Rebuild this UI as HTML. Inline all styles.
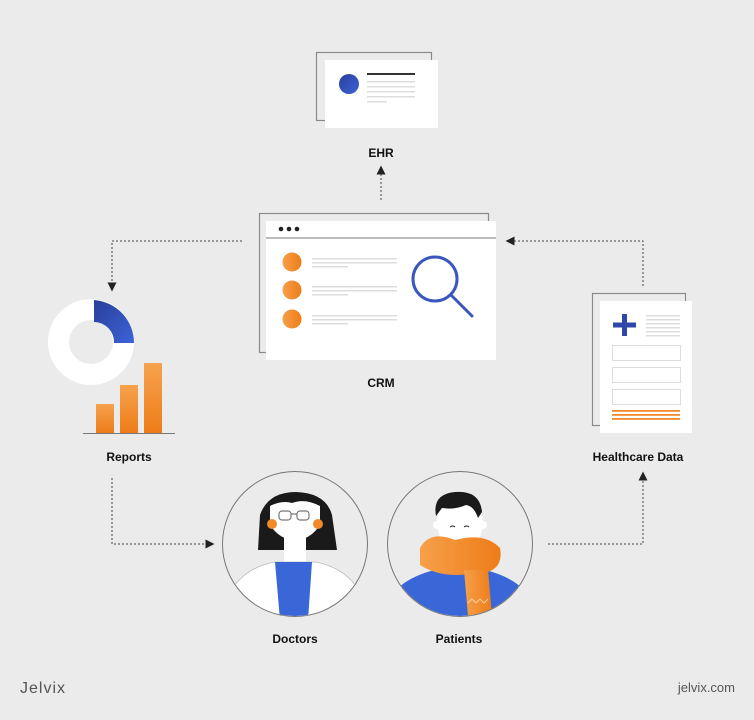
<!DOCTYPE html>
<html><head><meta charset="utf-8"><style>
html,body{margin:0;padding:0;background:#ebebeb;}
svg{display:block}
text{font-family:"Liberation Sans",sans-serif;}
</style></head><body>
<svg width="754" height="720" viewBox="0 0 754 720" xmlns="http://www.w3.org/2000/svg">
<defs>
<linearGradient id="og" x1="0" y1="0" x2="1" y2="0"><stop offset="0" stop-color="#f6a04a"/><stop offset="1" stop-color="#ee7c18"/></linearGradient>
<linearGradient id="ob" x1="0" y1="0" x2="0" y2="1"><stop offset="0" stop-color="#f6a24e"/><stop offset="1" stop-color="#ee7c18"/></linearGradient>
<linearGradient id="bg" x1="0" y1="0" x2="1" y2="1"><stop offset="0" stop-color="#2a3f9a"/><stop offset="1" stop-color="#3b63d8"/></linearGradient>
<clipPath id="cd"><circle cx="295" cy="544" r="72"/></clipPath>
<clipPath id="cp"><circle cx="460" cy="544" r="72"/></clipPath>
<marker id="ah" viewBox="0 0 10 10" refX="5" refY="5" markerWidth="9" markerHeight="9" orient="auto"><path d="M0,0 L10,5 L0,10z" fill="#222"/></marker>
</defs>
<rect width="754" height="720" fill="#ebebeb"/>

<!-- EHR -->
<rect x="316.5" y="52.5" width="115" height="68" fill="none" stroke="#8a8a8a" stroke-width="1.2"/>
<rect x="325" y="60" width="113" height="68" fill="#fff"/>
<circle cx="349" cy="84" r="10" fill="url(#bg)"/>
<rect x="367" y="73" width="48" height="2" fill="#333"/>
<g fill="#ddd"><rect x="367" y="81" width="48" height="1.5"/><rect x="367" y="86" width="48" height="1.5"/><rect x="367" y="91" width="48" height="1.5"/><rect x="367" y="96" width="48" height="1.5"/><rect x="367" y="101" width="20" height="1.5"/></g>
<text x="381" y="157" font-size="12" font-weight="bold" text-anchor="middle" fill="#111">EHR</text>
<line x1="381" y1="200" x2="381" y2="170" stroke="#444" stroke-dasharray="2,2" marker-end="url(#ah)"/>

<!-- CRM -->
<rect x="259.5" y="213.5" width="229" height="139" fill="none" stroke="#8a8a8a" stroke-width="1.2"/>
<rect x="266" y="221" width="230" height="139" fill="#fff"/>
<line x1="266" y1="238" x2="496" y2="238" stroke="#777"/>
<g fill="#222"><circle cx="281" cy="229" r="2.3"/><circle cx="289" cy="229" r="2.3"/><circle cx="297" cy="229" r="2.3"/></g>
<g fill="url(#og)"><circle cx="292" cy="262" r="9.5"/><circle cx="292" cy="290" r="9.5"/><circle cx="292" cy="319" r="9.5"/></g>
<g fill="#ddd">
<rect x="312" y="258" width="85" height="1.5"/><rect x="312" y="262" width="85" height="1.5"/><rect x="312" y="266" width="36" height="1.5"/>
<rect x="312" y="286" width="85" height="1.5"/><rect x="312" y="290" width="85" height="1.5"/><rect x="312" y="294" width="36" height="1.5"/>
<rect x="312" y="315" width="85" height="1.5"/><rect x="312" y="319" width="85" height="1.5"/><rect x="312" y="323" width="36" height="1.5"/></g>
<circle cx="435" cy="279" r="22" fill="none" stroke="#3a57c0" stroke-width="3"/>
<line x1="451" y1="295" x2="472" y2="316" stroke="#3a57c0" stroke-width="3" stroke-linecap="round"/>
<text x="381" y="387" font-size="12" font-weight="bold" text-anchor="middle" fill="#111">CRM</text>

<!-- connectors -->
<polyline points="242,241 112,241 112,287" fill="none" stroke="#444" stroke-dasharray="2,2" marker-end="url(#ah)"/>
<polyline points="643,286 643,241 510,241" fill="none" stroke="#444" stroke-dasharray="2,2" marker-end="url(#ah)"/>
<polyline points="112,478 112,544 210,544" fill="none" stroke="#444" stroke-dasharray="2,2" marker-end="url(#ah)"/>
<polyline points="548,544 643,544 643,476" fill="none" stroke="#444" stroke-dasharray="2,2" marker-end="url(#ah)"/>

<!-- Reports -->
<circle cx="91" cy="342" r="32.5" fill="none" stroke="#fff" stroke-width="21"/>
<path d="M94,300 A43,43 0 0 1 134,343 L114,343 A20,20 0 0 0 94,322 Z" fill="url(#bg)"/>
<rect x="96" y="404" width="18" height="29" fill="url(#ob)"/>
<rect x="120" y="385" width="18" height="48" fill="url(#ob)"/>
<rect x="144" y="363" width="18" height="70" fill="url(#ob)"/>
<line x1="83" y1="433.5" x2="175" y2="433.5" stroke="#777"/>
<text x="129" y="461" font-size="12" font-weight="bold" text-anchor="middle" fill="#111">Reports</text>

<!-- Healthcare -->
<rect x="592.5" y="293.5" width="93" height="132" fill="none" stroke="#8a8a8a" stroke-width="1.2"/>
<rect x="600" y="301" width="92" height="132" fill="#fff"/>
<rect x="622" y="314" width="5" height="22" fill="#2f47a8"/><rect x="613" y="322.5" width="23" height="5" fill="#2f47a8"/>
<g fill="#ddd"><rect x="646" y="315" width="34" height="1.5"/><rect x="646" y="319" width="34" height="1.5"/><rect x="646" y="323" width="34" height="1.5"/><rect x="646" y="327" width="34" height="1.5"/><rect x="646" y="331" width="34" height="1.5"/><rect x="646" y="335" width="34" height="1.5"/></g>
<g fill="none" stroke="#ddd"><rect x="612.5" y="345.5" width="68" height="15"/><rect x="612.5" y="367.5" width="68" height="15"/><rect x="612.5" y="389.5" width="68" height="15"/></g>
<g fill="#f08a2a"><rect x="612" y="410" width="68" height="1.8"/><rect x="612" y="414" width="68" height="1.8"/><rect x="612" y="418" width="68" height="1.8"/></g>
<text x="638" y="461" font-size="12" font-weight="bold" text-anchor="middle" fill="#111">Healthcare Data</text>

<!-- Doctor -->
<g clip-path="url(#cd)">
<path d="M258,550 L260,515 Q268,492 296,492 Q326,493 332,515 L337,550 Z" fill="#1a1a1a"/>
<rect x="284" y="528" width="22" height="40" fill="#fff"/>
<path d="M270,506 Q282,500 292,503 Q305,498 320,506 L320,525 Q310,540 295,540 Q280,540 270,525 Z" fill="#fff"/>
<circle cx="272" cy="524" r="5" fill="#f08a2a"/><circle cx="318" cy="524" r="5" fill="#f08a2a"/>
<g fill="none" stroke="#777" stroke-width="1.2"><rect x="279" y="511" width="12" height="9" rx="3"/><rect x="297" y="511" width="12" height="9" rx="3"/><line x1="291" y1="514" x2="297" y2="514"/></g>
<path d="M220,620 Q230,570 275,562 L315,562 Q360,570 370,620 Z" fill="#fff" stroke="#bbb" stroke-width="0.8"/>
<path d="M275,562 L312,562 L308,620 L280,620 Z" fill="#3a67d8"/>
</g>
<circle cx="295" cy="544" r="72.5" fill="none" stroke="#777" stroke-width="1"/>
<text x="295" y="643" font-size="12" font-weight="bold" text-anchor="middle" fill="#111">Doctors</text>

<!-- Patient -->
<g clip-path="url(#cp)">
<path d="M380,620 Q390,572 460,566 Q530,572 540,620 Z" fill="#3a67d8"/>
<ellipse cx="460" cy="523" rx="23" ry="27" fill="#fff"/>
<circle cx="437" cy="525" r="4" fill="#fff"/><circle cx="483" cy="525" r="4" fill="#fff"/>
<path d="M436,516 Q432,494 455,492 Q480,490 482,512 L478,518 Q474,506 466,505 Q455,510 442,508 Z" fill="#1a1a1a"/>
<path d="M450,527 q3,-2 5,0 M464,527 q3,-2 5,0" stroke="#222" fill="none" stroke-width="1"/>
<path d="M420,548 Q430,530 455,540 Q485,532 500,548 Q505,575 470,574 Q440,578 420,565 Z" fill="url(#og)"/>
<path d="M464,570 L488,570 L492,616 L468,616 Z" fill="url(#og)"/>
<path d="M468,603 l4,-4 l4,4 l4,-4 l4,4 l4,-4" fill="none" stroke="#ffd0a0" stroke-width="1"/>
</g>
<circle cx="460" cy="544" r="72.5" fill="none" stroke="#777" stroke-width="1"/>
<text x="459" y="643" font-size="12" font-weight="bold" text-anchor="middle" fill="#111">Patients</text>

<text x="20" y="693" font-size="16" fill="#555" letter-spacing="1">Jelvix</text>
<text x="735" y="692" font-size="13" fill="#555" text-anchor="end">jelvix.com</text>
</svg>
</body></html>
